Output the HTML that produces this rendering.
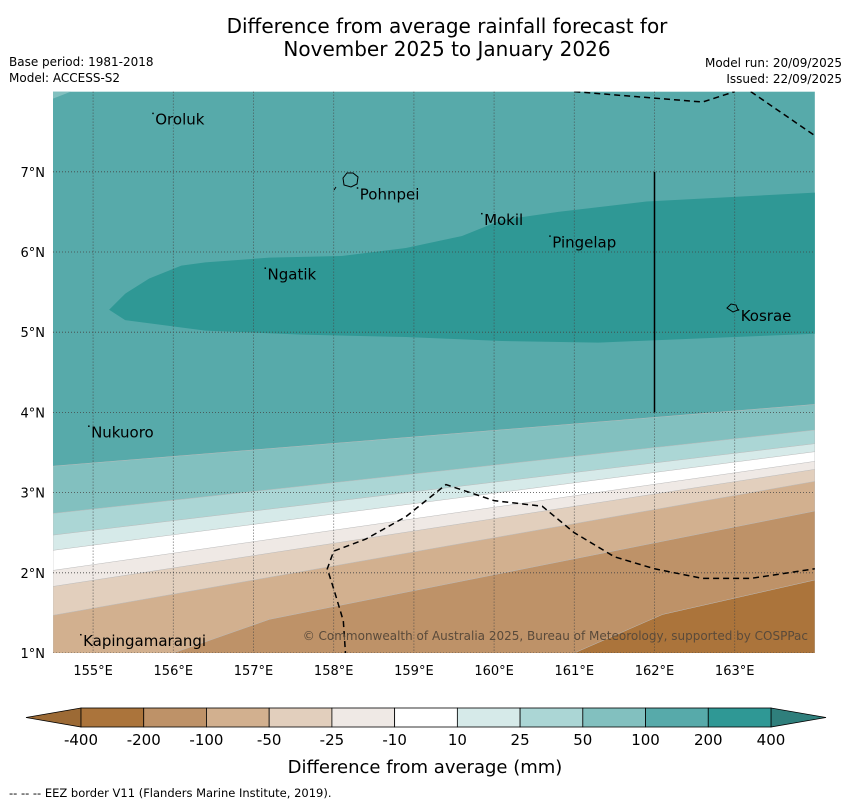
<!DOCTYPE html>
<html><head><meta charset="utf-8"><style>
body{margin:0;background:#fff;}
svg{display:block;font-family:"DejaVu Sans","Liberation Sans",sans-serif;}
</style></head><body>
<svg id="chart" width="850" height="804" viewBox="0 0 850 804">
<text x="447" y="33" font-size="20" text-anchor="middle">Difference from average rainfall forecast for</text>
<text x="447" y="56" font-size="20" text-anchor="middle">November 2025 to January 2026</text>
<text x="9" y="66" font-size="12">Base period: 1981-2018</text>
<text x="9" y="82" font-size="12">Model: ACCESS-S2</text>
<text x="842" y="67" font-size="12" text-anchor="end">Model run: 20/09/2025</text>
<text x="842" y="83" font-size="12" text-anchor="end">Issued: 22/09/2025</text>
<g id="map"></g>
<g id="cbar"></g>
<text x="425" y="773" font-size="18" text-anchor="middle">Difference from average (mm)</text>
<text x="9" y="797" font-size="11.5">--  --  -- EEZ border V11 (Flanders Marine Institute, 2019).</text>
</svg>
<script>
// colour levels
const levels = [-400,-200,-100,-50,-25,-10,10,25,50,100,200,400];
const colors = ["#ab743b","#be9268","#d2b08f","#e2cfbd","#efe9e5","#ffffff","#d6eae9","#abd6d5","#82c0bf","#57aaaa","#2f9895"];
// contour boundary latitudes at west (154.5E) and east (164E) edges, from top band downward
const bandLatsWest = [3.33, 2.74, 2.47, 2.28, 2.03, 1.83, 1.47];
const bandLatsEast = [4.10, 3.78, 3.61, 3.51, 3.39, 3.29, 3.14];
const bandColorIdx = [9, 8, 7, 6, 5, 4, 3, 2];
// -100/-200 and -200/-400 boundaries: [lon, lat] points
const b200 = [[156.0,1.0],[157.2,1.42],[164,2.77]];
const b400 = [[161.0,1.0],[162.1,1.48],[164,1.91]];
// strong wet core (200-400) outline
const coreLon = [155.2,155.4,155.7,156.1,156.4,157.2,158.1,158.9,159.6,160.1,160.8,161.9,164,164,162.5,161.3,160.1,158.9,157.6,156.4,155.4];
const coreLat = [5.28,5.48,5.67,5.83,5.87,5.93,5.95,6.05,6.2,6.4,6.5,6.63,6.74,4.98,4.92,4.87,4.89,4.94,4.97,5.02,5.15];
const lonTicks = [155,156,157,158,159,160,161,162,163];
const latTicks = [1,2,3,4,5,6,7];
const places = [["Oroluk",155.75,7.65],["Pohnpei",158.3,6.72],["Mokil",159.85,6.4],["Pingelap",160.7,6.12],["Ngatik",157.15,5.72],["Kosrae",163.05,5.2],["Nukuoro",154.95,3.75],["Kapingamarangi",154.85,1.15]];
const eezA = [[161.0,8.0],[162.6,7.87],[163.0,8.0]];
const eezB = [[163.2,8.0],[164,7.45]];
const eezC = [[158.15,0.95],[158.12,1.4],[158.0,1.8],[157.92,2.05],[158.0,2.27],[158.4,2.42],[158.9,2.7],[159.4,3.1],[160.0,2.9],[160.6,2.83],[161.0,2.5],[161.5,2.2],[162.0,2.05],[162.6,1.93],[163.2,1.93],[164,2.05]];

const X = lon => 53 + (lon-154.5)*80.2;
const Y = lat => 653 - (lat-1)*80.2;
const NS="http://www.w3.org/2000/svg";
const map=document.getElementById('map');
function mk(tag,attrs,parent){const e=document.createElementNS(NS,tag);for(const k in attrs)e.setAttribute(k,attrs[k]);parent.appendChild(e);return e;}
const xl=X(154.5), xr=X(164), yt=Y(8.0), yb=Y(1);
const cp=mk('clipPath',{id:'mc'},map); mk('rect',{x:xl,y:yt,width:xr-xl,height:yb-yt},cp);
const g=mk('g',{'clip-path':'url(#mc)'},map);
let r=mk('rect',{x:xl,y:yt,width:xr-xl,height:yb-yt,fill:colors[9]},g);


let tc=mk('path',{d:`M${xl},${yt} L${xl+18},${yt} L${xl},${yt+7} Z`,fill:colors[8]},g);


for(let i=0;i<bandLatsWest.length;i++){
  const p=mk('path',{d:`M${xl},${Y(bandLatsWest[i])} L${xr},${Y(bandLatsEast[i])} L${xr},${yb+5} L${xl},${yb+5} Z`,fill:colors[bandColorIdx[i+1]],stroke:'#bbb','stroke-width':0.5},g);
  
  
}
function polyBelow(pts,col,name){
  let d='M'+pts.map(p=>X(p[0])+','+Y(p[1])).join(' L')+` L${xr},${yb+5} L${X(pts[0][0])},${yb+5} Z`;
  const p=mk('path',{d,fill:col,stroke:'#bbb','stroke-width':0.5},g);
  
  
}
polyBelow(b200,colors[1],'band-minus-200');
polyBelow(b400,colors[0],'band-minus-400');
let cd='M'+coreLon.map((l,i)=>X(l)+','+Y(coreLat[i])).join(' L')+' Z';
let core=mk('path',{d:cd,fill:colors[10]},g);


lonTicks.forEach(l=>{
  const ln=mk('line',{x1:X(l),x2:X(l),y1:yt,y2:yb,stroke:'#444','stroke-width':0.8,'stroke-dasharray':'1,2'},g);
  
  
  const t=mk('text',{x:X(l),y:675,'font-size':13,'text-anchor':'middle'},map);t.textContent=l+'°E';
  
  
});
latTicks.forEach(l=>{
  const ln=mk('line',{x1:xl,x2:xr,y1:Y(l),y2:Y(l),stroke:'#444','stroke-width':0.8,'stroke-dasharray':'1,2'},g);
  
  
  const t=mk('text',{x:45,y:Y(l)+5,'font-size':13,'text-anchor':'end'},map);t.textContent=l+'°N';
  
  
});
let sl=mk('line',{x1:X(162),x2:X(162),y1:Y(7),y2:Y(4),stroke:'#000','stroke-width':1.5},g);


[eezA,eezB,eezC].forEach(pts=>{
  const p=mk('polyline',{points:pts.map(p=>X(p[0])+','+Y(p[1])).join(' '),fill:'none',stroke:'#000','stroke-width':1.5,'stroke-dasharray':'6,4'},g);
  
  
});
let pi=mk('path',{d:'M343,178 l4,-5 l6,0 l5,4 l-1,7 l-6,3 l-7,-2 Z M334,190 l2,-3',fill:'none',stroke:'#000','stroke-width':1},g);


let ki=mk('path',{d:'M727,308 l4,-4 l5,1 l2,5 l-5,2 Z',fill:'none',stroke:'#000','stroke-width':1},g);


places.forEach(p=>{
  const t=mk('text',{x:X(p[1])+2,y:Y(p[2])+5,'font-size':15},g);t.textContent=p[0];
  
  
  const d=mk('rect',{x:X(p[1])-1,y:Y(p[2])-7,width:1.5,height:1.5,fill:'#000'},g);
  
  
});
let cr=mk('text',{x:808,y:640,'font-size':12,'text-anchor':'end',fill:'#5a4a3a'},g);cr.textContent='© Commonwealth of Australia 2025, Bureau of Meteorology, supported by COSPPac';


const cb=document.getElementById('cbar');
const c0=81,c1=771,cy0=708,cy1=727,bw=(c1-c0)/colors.length;
let lt=mk('path',{d:`M${c0},${cy0} L26,${(cy0+cy1)/2} L${c0},${cy1} Z`,fill:'#9c6a35',stroke:'#000','stroke-width':0.8},cb);


let rt=mk('path',{d:`M${c1},${cy0} L826,${(cy0+cy1)/2} L${c1},${cy1} Z`,fill:'#2f7f7c',stroke:'#000','stroke-width':0.8},cb);


colors.forEach((c,i)=>{
  const rr=mk('rect',{x:c0+i*bw,y:cy0,width:bw,height:cy1-cy0,fill:c,stroke:'#000','stroke-width':0.8},cb);
  
  
});
levels.forEach((l,i)=>{
  const t=mk('text',{x:c0+i*bw,y:745,'font-size':15,'text-anchor':'middle'},cb);t.textContent=l;
  
  
});
</script>
</body></html>
